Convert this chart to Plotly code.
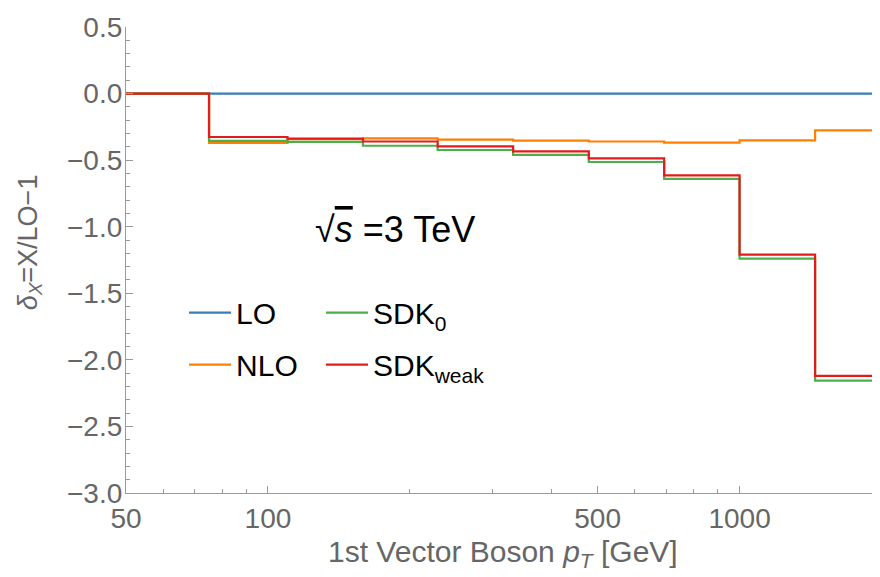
import math
import plotly.graph_objects as go

# ---- data ----
edges = [50, 75, 110, 159, 229, 331, 479, 692, 1000, 1446, 2000]
lo = [0, 0, 0, 0, 0, 0, 0, 0, 0, 0]
nlo = [0, -0.370, -0.342, -0.336, -0.346, -0.353, -0.360, -0.368, -0.352, -0.276]
sdk0 = [0, -0.356, -0.363, -0.392, -0.424, -0.461, -0.514, -0.641, -1.240, -2.156]
sdkw = [0, -0.326, -0.338, -0.360, -0.396, -0.434, -0.486, -0.614, -1.210, -2.120]

x_major = [50, 100, 500, 1000]
x_minor = [60, 70, 80, 90, 200, 300, 400, 600, 700, 800, 900, 2000]
y_major = [0.5, 0.0, -0.5, -1.0, -1.5, -2.0, -2.5, -3.0]
y_labels = ["0.5", "0.0", "\u22120.5", "\u22121.0", "\u22121.5", "\u22122.0", "\u22122.5", "\u22123.0"]

series = [
    ("LO", lo, "#377EB8", "legend", 1),
    ("NLO", nlo, "#FF7F00", "legend", 2),
    ("SDK<sub>0</sub>", sdk0, "#4DAF4A", "legend2", 1),
    ("SDK<sub>weak</sub>", sdkw, "#E41A1C", "legend2", 2),
]

FONT = "Liberation Sans, Arial, sans-serif"
GRAY = "#666666"
AX = "#9a9a9a"

# page body has an 8px margin; plot area on screen: x 126..880, y 26.7..492.7
PL, PW, PT, PB = 126, 754, 26.7, 492.7
PH = PB - PT


def px(xs):
    return (xs - PL) / PW


def py(ys):
    return (PB - ys) / PH


fig = go.Figure()
for name, vals, col, leg, rank in series:
    fig.add_trace(go.Scatter(
        x=edges, y=vals + [vals[-1]], mode="lines", name=name,
        line=dict(color=col, width=2.2, shape="hv"),
        legend=leg, legendgroup=name, legendrank=rank,
    ))

fig.update_layout(
    width=872, height=569,
    margin=dict(l=118, r=0, t=18.7, b=84.3, autoexpand=False),
    paper_bgcolor="white", plot_bgcolor="white",
    font=dict(family=FONT, size=28, color=GRAY),
    xaxis=dict(
        type="log", range=[math.log10(50), math.log10(1985)], automargin=False,
        showgrid=False, zeroline=False, showline=True, linecolor=AX, linewidth=1.3,
        ticks="inside", ticklen=7, tickcolor=AX, tickwidth=1.2,
        tickvals=x_major, ticktext=[str(v) for v in x_major],
        tickfont=dict(size=28, color=GRAY),
        minor=dict(tickvals=x_minor, ticks="inside", ticklen=4, tickcolor=AX, tickwidth=1),
    ),
    yaxis=dict(
        range=[-3.0, 0.5], automargin=False,
        showgrid=False, zeroline=False, showline=True, linecolor=AX, linewidth=1.3,
        ticks="inside", ticklen=7, tickcolor=AX, tickwidth=1.2,
        tickvals=y_major, ticktext=y_labels,
        tickfont=dict(size=28, color=GRAY),
        minor=dict(dtick=0.1, ticks="inside", ticklen=4, tickcolor=AX, tickwidth=1),
        ticklabelstandoff=-3,
    ),
    legend=dict(x=0.077, y=0.443, xanchor="left", yanchor="top",
                font=dict(size=30, color="black"), bgcolor="rgba(0,0,0,0)",
                traceorder="grouped", tracegroupgap=10, itemwidth=42),
    legend2=dict(x=0.2586, y=0.443, xanchor="left", yanchor="top",
                 font=dict(size=30, color="black"), bgcolor="rgba(0,0,0,0)",
                 traceorder="grouped", tracegroupgap=10, itemwidth=42),
    annotations=[
        dict(text="\u221a<span style='text-decoration:overline'><i>s</i></span> =3 TeV",
             x=px(395), y=py(229), xanchor="center", yanchor="middle",
             xref="paper", yref="paper", showarrow=False,
             font=dict(size=36, color="black", family=FONT)),
        dict(text="<i>\u03b4</i><sub><i>X</i></sub>=X/LO\u22121",
             x=px(30), y=py(242), xanchor="center", yanchor="middle",
             xref="paper", yref="paper", showarrow=False, textangle=-90,
             font=dict(size=27, color=GRAY, family=FONT)),
        dict(text="1st Vector Boson <i>p</i><sub><i>T</i></sub> [GeV]",
             x=px(503), y=py(553), xanchor="center", yanchor="middle",
             xref="paper", yref="paper", showarrow=False,
             font=dict(size=30, color=GRAY, family=FONT)),
    ],
)

fig.write_html("out.html")
